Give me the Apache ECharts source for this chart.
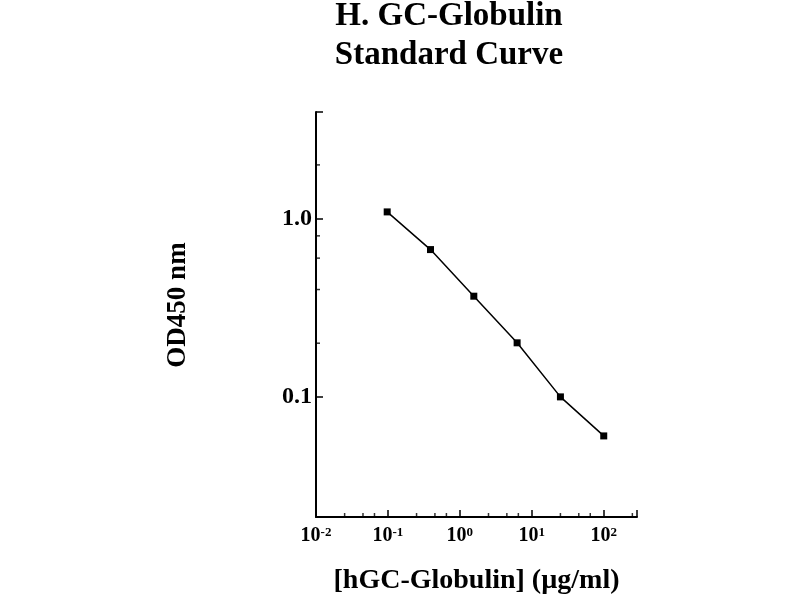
<!DOCTYPE html>
<html><head><meta charset="utf-8">
<script src="https://cdn.jsdelivr.net/npm/echarts@6/dist/echarts.min.js"></script>
<style>html,body{margin:0;padding:0;background:#fff}#c{width:800px;height:600px}</style>
</head><body><div id="c"></div>
<script>
// Data
const concentrations = [0.09765625, 0.390625, 1.5625, 6.25, 25, 100];
const odValues = [1.09, 0.67, 0.367, 0.201, 0.100, 0.0604];
// Axis ticks
const xMajorTicks = [0.01, 0.1, 1, 10, 100];
const xMajorLabels = ['10^-2', '10^-1', '10^0', '10^1', '10^2'];
const xMinorTicks = [0.025, 0.045, 0.065, 0.25, 0.45, 0.65, 2.5, 4.5, 6.5, 25, 45, 65, 250];
const yMajorTicks = [0.1, 1];
const yMajorLabels = ['0.1', '1.0'];
const yMinorTicks = [0.2, 0.4, 0.6, 0.8, 2];
const xRange = [0.01, 290];
const yRange = [0.0212, 3.96];

const serif = 'Liberation Serif';
function matchIdx(list, v) {
  for (let i = 0; i < list.length; i++) {
    if (Math.abs(Math.log10(list[i]) - Math.log10(v)) < 1e-6) return i;
  }
  return -1;
}

const chart = echarts.init(document.getElementById('c'), null, {renderer: 'canvas'});
chart.setOption({
  animation: false,
  backgroundColor: '#fff',
  title: {
    text: 'H. GC-Globulin\nStandard Curve',
    left: 449, top: -3, padding: 0, textAlign: 'center',
    textStyle: {fontFamily: serif, fontWeight: 'bold', fontSize: 33, lineHeight: 39, color: '#000'}
  },
  graphic: [{
    type: 'text', x: 178, y: 305, rotation: Math.PI / 2,
    style: {text: 'OD450 nm', fontFamily: serif, fontWeight: 'bold', fontSize: 27, fill: '#000',
            textAlign: 'center', textVerticalAlign: 'middle'}
  }],
  grid: {left: 316, right: 163, top: 112, bottom: 82},
  xAxis: {
    type: 'log', logBase: 10, min: xRange[0], max: xRange[1],
    name: '[hGC-Globulin] (µg/ml)', nameLocation: 'middle', nameGap: 50,
    nameTextStyle: {fontFamily: serif, fontWeight: 'bold', fontSize: 28, color: '#000'},
    axisLine: {lineStyle: {color: '#000', width: 2}},
    axisTick: {inside: true, length: 7, lineStyle: {color: '#000', width: 1.5}},
    splitLine: {show: false},
    axisLabel: {
      margin: 9, color: '#000',
      formatter: function (v) {
        const i = matchIdx(xMajorTicks, v);
        if (i < 0) return '';
        const p = xMajorLabels[i].split('^');
        return '{b|' + p[0] + '}{s|' + p[1] + '}';
      },
      rich: {
        b: {fontFamily: serif, fontWeight: 'bold', fontSize: 20, color: '#000', lineHeight: 20},
        s: {fontFamily: serif, fontWeight: 'bold', fontSize: 13, color: '#000', verticalAlign: 'top', lineHeight: 12}
      }
    }
  },
  yAxis: {
    type: 'log', logBase: 10, min: yRange[0], max: yRange[1],
    axisLine: {lineStyle: {color: '#000', width: 2}},
    axisTick: {inside: true, length: 7, lineStyle: {color: '#000', width: 1.5}},
    splitLine: {show: false},
    axisLabel: {
      margin: 4, color: '#000', fontFamily: serif, fontWeight: 'bold', fontSize: 24,
      formatter: function (v) {
        const i = matchIdx(yMajorTicks, v);
        return i < 0 ? '' : yMajorLabels[i];
      }
    }
  },
  series: [
    {
      type: 'line', data: concentrations.map((c, i) => [c, odValues[i]]),
      symbol: 'rect', symbolSize: 7, showAllSymbol: true,
      lineStyle: {color: '#000', width: 1.5},
      itemStyle: {color: '#000'}
    },
    {
      type: 'scatter', silent: true, clip: false,
      data: xMinorTicks.map(v => [v, yRange[0]]),
      symbol: 'rect', symbolSize: [1.5, 4], symbolOffset: [0, -2],
      itemStyle: {color: '#000'}
    },
    {
      type: 'scatter', silent: true, clip: false,
      data: yMinorTicks.map(v => [xRange[0], v]),
      symbol: 'rect', symbolSize: [4, 1.5], symbolOffset: [2, 0],
      itemStyle: {color: '#000'}
    }
  ]
});
</script>
</body></html>
